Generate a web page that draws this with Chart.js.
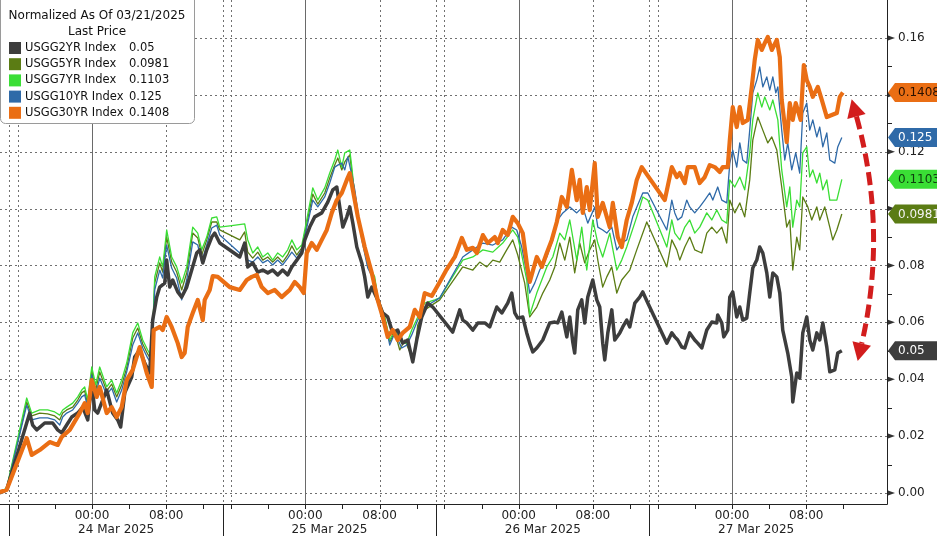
<!DOCTYPE html>
<html>
<head>
<meta charset="utf-8">
<title>USGG curve, normalized</title>
<script src="https://cdn.jsdelivr.net/npm/chart.js@4.4.1/dist/chart.umd.min.js"></script>
<style>
  html, body { margin: 0; padding: 0; background: #fff; }
  #wrap { width: 937px; height: 536px; }
</style>
</head>
<body>
<div id="wrap"><canvas id="chart" width="937" height="536"></canvas></div>
<script>
// x is in session hours: 0 = 24 Mar 00:00, each trading day spans 23 units
const hours30y = [
  -9.95, -9.2, -7.04, -6.5, -5.64, -4.56, -3.7, -3.27, -2.4, -1.33,
  -0.79, -0.46, -0.03, 0.51, 0.83, 1.58, 2.12, 2.66, 3.2, 3.74,
  4.39, 5.14, 5.9, 6.44, 6.65, 7.3, 7.62, 8.05, 8.59, 9.24,
  9.67, 9.99, 10.32, 10.86, 11.4, 11.94, 12.15, 12.69, 13.02, 13.56,
  14.85, 15.93, 16.68, 17.22, 17.76, 18.3, 18.95, 19.7, 20.45, 21.32,
  21.86, 22.4, 22.83, 23.15, 23.69, 24.23, 24.77, 25.31, 25.85, 26.39,
  26.93, 27.47, 27.79, 28.12, 28.66, 29.4, 30.16, 30.8, 31.34, 31.88,
  32.42, 32.96, 33.5, 34.26, 34.8, 35.33, 35.87, 36.63, 37.49, 38.14,
  39.11, 39.87, 40.41, 41.06, 41.49, 42.14, 42.68, 43.42, 43.75, 44.28,
  44.82, 45.36, 45.9, 46.44, 46.87, 47.19, 47.95, 48.49, 49.03, 49.57,
  50.11, 50.65, 51.19, 51.73, 52.26, 52.58, 52.91, 53.34, 53.66, 54.2,
  54.53, 55.06, 55.82, 56.15, 56.68, 57.11, 57.65, 58.19, 58.73, 59.27,
  61.75, 62.51, 63.05, 63.37, 63.91, 64.23, 64.98, 65.52, 66.06, 66.6,
  67.14, 67.68, 68.0, 68.54, 68.76, 69.08, 69.51, 69.84, 70.16, 70.7,
  71.13, 71.45, 71.78, 72.21, 72.53, 72.86, 73.29, 73.83, 74.15, 74.36,
  74.9, 75.23, 75.55, 75.87, 76.4, 76.74, 77.06, 77.38, 77.71, 78.25,
  78.68, 79.22, 79.76, 80.3, 80.62, 80.95
];
const yield30y = [
  .0003, .0011, .0193, .0134, .0151, .0179, .0169, .0197, .0222, .0281,
  .0316, .0281, .0397, .0338, .0373, .0281, .0302, .0267, .0302, .0397,
  .0433, .0513, .0422, .0373, .0573, .0584, .0573, .0619, .0584, .0527,
  .0478, .0492, .0584, .0633, .0679, .0608, .0679, .0714, .0763, .0760,
  .0724, .0714, .0749, .0760, .0767, .0724, .0703, .0714, .0689, .0714,
  .0742, .0724, .0703, .0844, .0879, .0855, .0890, .0925, .0985, .1030,
  .1055, .1101, .1125, .1066, .0971, .0865, .0774, .0679, .0619, .0549,
  .0573, .0538, .0563, .0584, .0644, .0619, .0703, .0693, .0742, .0781,
  .0830, .0897, .0855, .0862, .0844, .0907, .0879, .0900, .0879, .0925,
  .0907, .0971, .0949, .0914, .0809, .0742, .0830, .0795, .0844, .0890,
  .0953, .1041, .1006, .1136, .1030, .1101, .0985, .1076, .0995, .1160,
  .0971, .1020, .0935, .1020, .0900, .0865, .0960, .1020, .1101, .1146,
  .1030, .1146, .1111, .1125, .1090, .1146, .1146, .1090, .1111, .1153,
  .1146, .1129, .1146, .1146, .1241, .1357, .1287, .1357, .1301, .1312,
  .1428, .1523, .1593, .1558, .1582, .1604, .1558, .1593, .1533, .1382,
  .1234, .1371, .1312, .1371, .1312, .1505, .1452, .1428, .1393, .1428,
  .1382, .1322, .1329, .1336, .1393, .1408
];

const hours2y = [
  -9.95, -9.2, -6.72, -6.4, -5.96, -5.1, -4.24, -3.7, -3.27, -2.73,
  -2.19, -1.54, -1.0, -0.46, -0.03, 0.29, 0.61, 1.15, 1.58, 2.23,
  2.77, 3.09, 3.53, 4.28, 4.6, 5.14, 5.68, 6.22, 6.54, 6.98,
  7.3, 7.84, 8.05, 8.38, 8.7, 9.24, 9.67, 10.21, 10.75, 11.29,
  11.61, 11.94, 12.37, 12.91, 13.23, 13.77, 15.93, 16.46, 16.79, 17.33,
  17.87, 18.41, 18.95, 19.48, 20.02, 20.56, 21.1, 21.54, 22.08, 22.62,
  22.94, 23.47, 24.01, 24.77, 25.42, 25.96, 26.39, 26.71, 27.04, 27.47,
  27.79, 28.12, 28.55, 29.09, 29.4, 29.73, 30.16, 30.8, 31.34, 31.88,
  32.42, 32.96, 33.5, 34.04, 34.58, 35.01, 35.55, 36.2, 36.74, 38.89,
  39.65, 39.97, 40.41, 41.06, 41.6, 42.35, 42.88, 43.64, 44.18, 44.82,
  45.25, 45.58, 45.9, 46.44, 46.87, 47.19, 47.52, 47.95, 48.6, 49.35,
  49.89, 50.21, 50.65, 51.19, 51.51, 51.83, 52.04, 52.37, 52.8, 53.12,
  53.45, 53.99, 54.42, 54.74, 55.06, 55.28, 55.61, 56.04, 56.36, 56.9,
  57.22, 57.65, 57.98, 58.52, 59.05, 59.38, 59.92, 61.97, 62.51, 62.83,
  63.15, 63.59, 63.91, 64.44, 64.98, 65.3, 65.74, 66.28, 66.82, 67.36,
  67.46, 67.9, 68.11, 68.54, 68.76, 69.08, 69.51, 69.84, 70.16, 70.59,
  70.91, 71.24, 71.67, 71.99, 72.32, 72.75, 73.07, 73.4, 73.83, 74.15,
  74.47, 75.01, 75.44, 75.55, 75.98, 76.3, 76.63, 77.06, 77.38, 77.71,
  78.14, 78.46, 78.79, 79.22, 79.54, 80.08, 80.4, 80.84
];
const yield2y = [
  0, .0011, .0281, .0239, .0222, .0246, .0246, .0222, .0211, .0239,
  .0267, .0281, .0302, .0257, .0387, .0292, .0281, .0327, .0362, .0281,
  .0257, .0232, .0352, .0408, .0478, .0503, .0457, .0422, .0608, .0689,
  .0724, .0738, .0819, .0724, .0749, .0707, .0689, .0724, .0784, .0844,
  .0855, .0809, .0855, .0900, .0914, .0879, .0830, .0879, .0795, .0809,
  .0777, .0784, .0774, .0784, .0767, .0784, .0767, .0795, .0819, .0844,
  .0890, .0935, .0971, .0985, .1023, .1066, .1076, .1006, .0935, .0971,
  .1006, .0949, .0865, .0809, .0760, .0689, .0724, .0679, .0633, .0619,
  .0563, .0573, .0527, .0538, .0461, .0538, .0619, .0668, .0654, .0566,
  .0644, .0608, .0598, .0573, .0598, .0598, .0584, .0654, .0633, .0668,
  .0703, .0633, .0615, .0619, .0563, .0527, .0496, .0510, .0538, .0598,
  .0601, .0598, .0636, .0549, .0619, .0531, .0492, .0644, .0679, .0598,
  .0689, .0749, .0679, .0654, .0527, .0468, .0563, .0644, .0538, .0563,
  .0584, .0608, .0584, .0668, .0689, .0707, .0668, .0527, .0563, .0549,
  .0538, .0513, .0510, .0563, .0538, .0527, .0510, .0573, .0601, .0598,
  .0626, .0598, .0549, .0573, .0689, .0707, .0619, .0654, .0608, .0615,
  .0703, .0791, .0819, .0865, .0844, .0774, .0689, .0774, .0760, .0703,
  .0573, .0492, .0408, .0320, .0422, .0404, .0563, .0619, .0538, .0503,
  .0563, .0538, .0598, .0513, .0426, .0433, .0492, .0500
];

const hours10y = [
  -9.95, -9.2, -7.04, -6.5, -5.64, -4.78, -4.02, -3.48, -3.16, -2.73,
  -2.08, -1.54, -1.11, -0.79, -0.46, -0.03, 0.4, 0.83, 1.58, 2.12,
  2.66, 3.2, 3.74, 4.39, 4.93, 5.47, 6.0, 6.44, 6.76, 7.3,
  7.62, 8.05, 8.59, 9.13, 9.67, 10.21, 10.86, 11.4, 11.83, 12.37,
  12.91, 13.45, 13.77, 15.93, 16.46, 16.79, 17.33, 17.87, 18.41, 18.95,
  19.48, 20.02, 20.56, 21.1, 21.54, 22.08, 22.62, 23.15, 23.8, 24.34,
  25.09, 25.63, 26.17, 26.5, 26.93, 27.25, 27.58, 28.01, 28.33, 29.09,
  29.73, 30.48, 30.8, 31.56, 32.1, 32.64, 33.39, 33.93, 34.47, 35.12,
  35.87, 37.49, 39.97, 41.06, 42.14, 43.21, 44.28, 45.25, 45.79, 46.33,
  46.87, 47.19, 47.73, 48.27, 49.03, 49.68, 50.21, 50.76, 51.51, 52.26,
  52.91, 53.45, 54.2, 54.53, 55.06, 55.5, 56.04, 56.58, 57.11, 57.65,
  58.3, 59.38, 59.92, 61.97, 62.51, 62.83, 63.15, 63.59, 64.12, 64.44,
  64.98, 65.52, 66.06, 66.6, 66.93, 67.46, 67.9, 68.43, 68.76, 69.08,
  69.51, 69.84, 70.16, 70.59, 70.91, 71.24, 71.67, 71.99, 72.32, 72.75,
  73.07, 73.4, 73.72, 73.94, 74.36, 74.69, 75.01, 75.44, 75.87, 76.3,
  76.63, 77.06, 77.38, 77.71, 78.14, 78.46, 78.79, 79.22, 79.54, 80.08,
  80.4, 80.84
];
const yield10y = [
  0, .0014, .0309, .0257, .0264, .0264, .0257, .0239, .0267, .0281,
  .0292, .0316, .0338, .0345, .0299, .0415, .0345, .0404, .0345, .0369,
  .0320, .0362, .0426, .0520, .0563, .0510, .0475, .0450, .0714, .0784,
  .0756, .0872, .0791, .0756, .0679, .0749, .0883, .0872, .0812, .0872,
  .0932, .0942, .0907, .0844, .0872, .0819, .0812, .0830, .0809, .0819,
  .0802, .0819, .0802, .0826, .0847, .0826, .0855, .0932, .1030, .1006,
  .1041, .1090, .1146, .1153, .1160, .1136, .1182, .1118, .1066, .0890,
  .0791, .0742, .0679, .0608, .0520, .0563, .0510, .0520, .0556, .0608,
  .0654, .0686, .0830, .0855, .0879, .0872, .0890, .0935, .0925, .0865,
  .0774, .0703, .0738, .0784, .0830, .0890, .0960, .0985, .1006, .0985,
  .1006, .0949, .1006, .0935, .0925, .0914, .0935, .0855, .0879, .0890,
  .0971, .1055, .1055, .0925, .1030, .0985, .0960, .0971, .1030, .1006,
  .0985, .1006, .1030, .1055, .1030, .1076, .1030, .1020, .1160, .1206,
  .1146, .1231, .1171, .1160, .1276, .1407, .1452, .1498, .1428, .1463,
  .1417, .1463, .1407, .1428, .1276, .1171, .1231, .1136, .1196, .1125,
  .1336, .1371, .1276, .1312, .1252, .1287, .1217, .1266, .1171, .1160,
  .1217, .1250
];

const hours7y = [
  -9.95, -9.2, -7.04, -6.5, -5.64, -4.78, -4.02, -3.48, -3.16, -2.73,
  -2.08, -1.54, -1.11, -0.79, -0.46, -0.03, 0.4, 0.83, 1.58, 2.12,
  2.66, 3.2, 3.74, 4.39, 4.93, 5.47, 6.0, 6.44, 6.76, 7.3,
  7.62, 8.05, 8.59, 9.13, 9.67, 10.21, 10.86, 11.4, 11.83, 12.37,
  12.91, 13.45, 13.77, 14.85, 16.46, 16.79, 17.33, 17.87, 18.41, 18.95,
  19.48, 20.02, 20.56, 21.1, 21.54, 22.08, 22.62, 23.15, 23.8, 24.34,
  25.09, 25.63, 26.17, 26.5, 26.93, 27.25, 27.79, 28.01, 28.33, 29.09,
  29.73, 30.48, 30.8, 31.56, 32.1, 32.64, 33.39, 33.93, 34.47, 35.12,
  35.87, 36.95, 37.49, 39.97, 41.06, 42.14, 43.21, 44.28, 45.36, 45.9,
  46.33, 46.87, 47.19, 47.95, 49.03, 49.68, 50.43, 50.97, 51.51, 52.26,
  52.8, 53.34, 53.99, 54.53, 55.06, 55.82, 56.58, 57.11, 57.65, 58.73,
  59.38, 59.92, 61.97, 62.51, 62.83, 63.37, 63.91, 64.44, 64.98, 65.52,
  66.28, 66.82, 67.36, 67.9, 68.43, 68.76, 69.3, 69.84, 70.37, 70.91,
  71.24, 71.78, 72.21, 72.53, 73.07, 73.4, 73.94, 74.36, 74.9, 75.23,
  75.55, 75.98, 76.3, 76.63, 77.06, 77.38, 77.71, 78.14, 78.46, 78.79,
  79.22, 79.54, 80.3, 80.84
];
const yield7y = [
  0, .0018, .0334, .0281, .0292, .0292, .0285, .0274, .0292, .0302,
  .0316, .0338, .0362, .0373, .0327, .0443, .0380, .0443, .0373, .0397,
  .0352, .0397, .0457, .0563, .0598, .0538, .0503, .0478, .0760, .0830,
  .0795, .0925, .0830, .0795, .0738, .0795, .0935, .0914, .0855, .0900,
  .0967, .0971, .0935, .0939, .0946, .0890, .0844, .0865, .0830, .0844,
  .0819, .0844, .0830, .0855, .0890, .0855, .0872, .0960, .1073, .1030,
  .1073, .1125, .1171, .1206, .1146, .1196, .1206, .1146, .1041, .0900,
  .0809, .0760, .0689, .0619, .0538, .0573, .0527, .0527, .0573, .0619,
  .0668, .0679, .0686, .0819, .0830, .0855, .0847, .0879, .0925, .0900,
  .0837, .0749, .0626, .0703, .0795, .0830, .0914, .0890, .0960, .0819,
  .0935, .0784, .0960, .0879, .0830, .0914, .0784, .0819, .0865, .0971,
  .1041, .1030, .0865, .0960, .0914, .0890, .0935, .0960, .0914, .0935,
  .0985, .0960, .0995, .0960, .0949, .1101, .1076, .1111, .1066, .1196,
  .1312, .1407, .1357, .1393, .1347, .1382, .1312, .1136, .1006, .1076,
  .0935, .1030, .1006, .1196, .1217, .1111, .1136, .1090, .1125, .1066,
  .1101, .1030, .1030, .1103
];

const hours5y = [
  -9.95, -9.2, -7.04, -6.5, -5.64, -4.78, -4.02, -3.48, -3.16, -2.73,
  -2.08, -1.54, -1.11, -0.79, -0.46, -0.03, 0.4, 0.83, 1.58, 2.12,
  2.66, 3.2, 3.74, 4.39, 4.93, 5.47, 6.0, 6.44, 6.76, 7.3,
  7.62, 8.05, 8.59, 9.13, 9.67, 10.21, 10.86, 11.4, 11.83, 12.37,
  12.91, 13.45, 13.77, 15.93, 16.46, 16.79, 17.33, 17.87, 18.41, 18.95,
  19.48, 20.02, 20.56, 21.1, 21.54, 22.08, 22.62, 23.15, 23.8, 24.34,
  25.09, 25.63, 26.17, 26.5, 26.93, 27.25, 27.79, 28.01, 28.33, 29.09,
  29.73, 30.48, 30.8, 31.56, 32.1, 32.64, 33.18, 33.72, 34.26, 34.69,
  35.12, 35.87, 37.49, 39.97, 41.06, 41.8, 42.56, 43.21, 43.96, 44.71,
  45.36, 45.9, 46.65, 47.19, 47.95, 48.6, 49.35, 49.89, 50.43, 50.97,
  51.51, 52.04, 52.58, 53.12, 53.66, 54.2, 54.53, 55.06, 55.5, 56.04,
  56.58, 57.11, 57.98, 58.73, 59.81, 61.97, 62.51, 63.05, 63.37, 63.91,
  64.44, 64.98, 65.74, 66.28, 66.82, 67.36, 67.9, 68.43, 68.76, 69.3,
  69.84, 70.37, 70.91, 71.24, 71.78, 72.32, 72.86, 73.29, 73.83, 74.36,
  74.9, 75.23, 75.55, 75.98, 76.3, 76.63, 77.17, 77.6, 78.14, 78.46,
  79.0, 79.54, 79.86, 80.3, 80.84
];
const yield5y = [
  0, .0014, .0320, .0271, .0281, .0278, .0271, .0257, .0281, .0292,
  .0302, .0327, .0352, .0359, .0313, .0429, .0362, .0426, .0359, .0383,
  .0338, .0380, .0440, .0545, .0580, .0524, .0489, .0464, .0738, .0809,
  .0777, .0900, .0812, .0777, .0714, .0774, .0914, .0897, .0837, .0890,
  .0953, .0953, .0925, .0890, .0918, .0847, .0826, .0847, .0819, .0830,
  .0812, .0830, .0812, .0837, .0869, .0837, .0862, .0946, .1051, .1016,
  .1055, .1108, .1153, .1178, .1136, .1164, .1189, .1129, .1055, .0897,
  .0802, .0749, .0686, .0615, .0531, .0566, .0503, .0538, .0496, .0475,
  .0591, .0644, .0679, .0795, .0784, .0812, .0795, .0819, .0812, .0855,
  .0890, .0837, .0738, .0619, .0654, .0703, .0749, .0795, .0879, .0819,
  .0900, .0774, .0879, .0809, .0855, .0890, .0819, .0724, .0760, .0795,
  .0703, .0749, .0784, .0855, .0953, .0795, .0890, .0855, .0819, .0865,
  .0900, .0855, .0844, .0914, .0935, .0914, .0935, .0879, .1030, .0985,
  .1020, .0971, .1101, .1241, .1322, .1276, .1231, .1252, .1206, .1076,
  .0935, .0960, .0784, .0900, .0855, .1041, .1006, .0960, .1006, .0960,
  .1006, .0935, .0890, .0925, .0981
];

const seriesNames = ['USGG2YR Index', 'USGG5YR Index', 'USGG7YR Index', 'USGG10YR Index', 'USGG30YR Index'];
const seriesColors = ['#3d3d3d', '#5b7c14', '#3ade35', '#2f6aa8', '#ea6e14'];
const boxTextColors = ['#ffffff', '#f2f2f2', '#0d3d0d', '#ffffff', '#2a1100'];

const yTicks = [0, 0.02, 0.04, 0.06, 0.08, 0.10, 0.12, 0.14, 0.16];
const dayStarts = [0, 23, 46, 69];
const dayLabels = ['24 Mar 2025', '25 Mar 2025', '26 Mar 2025', '27 Mar 2025'];
const sessionBreaks = [-8.9, 14.1, 37.1, 60.1];
const legendTitle = 'Normalized As Of 03/21/2025';
const legendSub = 'Last Price';

const arrowTop = {x: 81.9, y: 0.1385};
const arrowBottom = {x: 82.55, y: 0.0464};
const arrowBend = {x: 85.8, y: 0.0925};

const allHours = [hours2y, hours5y, hours7y, hours10y, hours30y];
const allYields = [yield2y, yield5y, yield7y, yield10y, yield30y];
const lastValues = allYields.map(vs => vs[vs.length - 1]);

const toPoints = (hs, vs) => hs.map((h, i) => ({x: h, y: vs[i]}));
const fmtVal = (v) => String(+v.toFixed(4));

Chart.defaults.font.family = "'DejaVu Sans', sans-serif";
Chart.defaults.color = '#222';

const decor = {
  id: 'decor',
  beforeDatasetsDraw(chart) {
    const {ctx, chartArea: a, scales: {x, y}} = chart;
    ctx.save();
    ctx.lineWidth = 1;
    ctx.strokeStyle = '#707070';
    ctx.setLineDash([2, 3]);
    yTicks.forEach(v => {
      const py = Math.round(y.getPixelForValue(v)) + 0.5;
      ctx.beginPath(); ctx.moveTo(a.left, py); ctx.lineTo(a.right, py); ctx.stroke();
    });
    const dotted = [];
    dayStarts.forEach(d => dotted.push(d + 8));
    sessionBreaks.forEach(b => { dotted.push(b); dotted.push(b + 0.9); });
    dotted.forEach(h => {
      const px = Math.round(x.getPixelForValue(h)) + 0.5;
      ctx.beginPath(); ctx.moveTo(px, a.top); ctx.lineTo(px, a.bottom); ctx.stroke();
    });
    ctx.setLineDash([]);
    ctx.strokeStyle = '#6a6a6a';
    dayStarts.forEach(d => {
      const px = Math.round(x.getPixelForValue(d)) + 0.5;
      ctx.beginPath(); ctx.moveTo(px, a.top); ctx.lineTo(px, a.bottom); ctx.stroke();
    });
    ctx.restore();
  },
  afterDraw(chart) {
    const {ctx, chartArea: a, scales: {x, y}, width, height} = chart;
    ctx.save();

    // axis lines
    ctx.strokeStyle = '#222';
    ctx.lineWidth = 1;
    ctx.beginPath();
    ctx.moveTo(a.left, a.bottom + 0.5); ctx.lineTo(a.right + 0.5, a.bottom + 0.5);
    ctx.moveTo(a.right + 0.5, a.top); ctx.lineTo(a.right + 0.5, a.bottom + 0.5);
    ctx.stroke();

    // bottom tick marks every 4 session hours
    ctx.beginPath();
    dayStarts.forEach(d => {
      [-8, -4, 0, 4, 8, 12].forEach(o => {
        const px = Math.round(x.getPixelForValue(d + o)) + 0.5;
        ctx.moveTo(px, a.bottom); ctx.lineTo(px, a.bottom + 5);
      });
    });
    // day separators in the label strip
    sessionBreaks.forEach(b => {
      const px = Math.round(x.getPixelForValue(b)) + 0.5;
      ctx.moveTo(px, a.bottom); ctx.lineTo(px, height);
    });
    ctx.stroke();

    // date row
    ctx.fillStyle = '#222';
    ctx.font = "12px 'DejaVu Sans'";
    ctx.textAlign = 'center';
    ctx.textBaseline = 'middle';
    dayLabels.forEach((lbl, i) => {
      const l = sessionBreaks[i];
      const r = i + 1 < sessionBreaks.length ? sessionBreaks[i + 1] : l + 23;
      ctx.fillText(lbl, x.getPixelForValue((l + r) / 2), a.bottom + 26);
    });

    // right axis markers
    ctx.fillStyle = '#333';
    yTicks.forEach(v => {
      const py = y.getPixelForValue(v);
      ctx.beginPath();
      ctx.moveTo(a.right + 1, py - 2.5); ctx.lineTo(a.right + 8, py); ctx.lineTo(a.right + 1, py + 2.5);
      ctx.closePath(); ctx.fill();
    });
    ctx.beginPath();
    for (let i = 0; i < yTicks.length - 1; i++) {
      const py = Math.round(y.getPixelForValue((yTicks[i] + yTicks[i + 1]) / 2)) + 0.5;
      ctx.moveTo(a.right, py); ctx.lineTo(a.right + 5, py);
    }
    ctx.stroke();

    // last value tags
    ctx.font = "12px 'DejaVu Sans'";
    ctx.textAlign = 'left';
    lastValues.forEach((v, i) => {
      const cy = y.getPixelForValue(v);
      const l = a.right + 1;
      ctx.fillStyle = seriesColors[i];
      ctx.beginPath();
      ctx.moveTo(l, cy); ctx.lineTo(l + 7, cy - 9.5); ctx.lineTo(width, cy - 9.5);
      ctx.lineTo(width, cy + 9.5); ctx.lineTo(l + 7, cy + 9.5); ctx.closePath();
      ctx.fill();
      ctx.fillStyle = boxTextColors[i];
      ctx.fillText(fmtVal(v), l + 10, cy + 0.5);
    });

    // legend box
    ctx.fillStyle = '#fff';
    ctx.strokeStyle = '#9a9a9a';
    ctx.beginPath();
    if (ctx.roundRect) ctx.roundRect(0.5, -6, 194, 129.5, 5); else ctx.rect(0.5, -6, 194, 129.5);
    ctx.fill(); ctx.stroke();
    ctx.fillStyle = '#111';
    ctx.textAlign = 'center';
    ctx.font = "12px 'DejaVu Sans'";
    ctx.fillText(legendTitle, 97, 16);
    ctx.fillText(legendSub, 97, 32);
    ctx.textAlign = 'left';
    ctx.font = "11.5px 'DejaVu Sans'";
    seriesNames.forEach((name, i) => {
      const ry = 48 + i * 16.2;
      ctx.fillStyle = seriesColors[i];
      ctx.fillRect(9, ry - 6, 12, 12);
      ctx.fillStyle = '#111';
      ctx.fillText(name, 25, ry);
      ctx.fillText(fmtVal(lastValues[i]), 129, ry);
    });

    // red dashed double arrow
    const p0 = {x: x.getPixelForValue(arrowTop.x), y: y.getPixelForValue(arrowTop.y)};
    const p1 = {x: x.getPixelForValue(arrowBottom.x), y: y.getPixelForValue(arrowBottom.y)};
    const c = {x: x.getPixelForValue(arrowBend.x), y: y.getPixelForValue(arrowBend.y)};
    const unit = (dx, dy) => { const n = Math.hypot(dx, dy); return {x: dx / n, y: dy / n}; };
    const d0 = unit(c.x - p0.x, c.y - p0.y);
    const d1 = unit(c.x - p1.x, c.y - p1.y);
    const head = 18, half = 9.5;
    const s0 = {x: p0.x + d0.x * head, y: p0.y + d0.y * head};
    const s1 = {x: p1.x + d1.x * head, y: p1.y + d1.y * head};
    ctx.strokeStyle = '#d21d1d';
    ctx.fillStyle = '#d21d1d';
    ctx.lineWidth = 5;
    ctx.setLineDash([13, 6]);
    ctx.beginPath();
    ctx.moveTo(s0.x, s0.y);
    ctx.quadraticCurveTo(c.x, c.y, s1.x, s1.y);
    ctx.stroke();
    ctx.setLineDash([]);
    [[p0, d0], [p1, d1]].forEach(([p, d]) => {
      const bx = p.x + d.x * head, by = p.y + d.y * head;
      ctx.beginPath();
      ctx.moveTo(p.x, p.y);
      ctx.lineTo(bx - d.y * half, by + d.x * half);
      ctx.lineTo(bx + d.y * half, by - d.x * half);
      ctx.closePath();
      ctx.fill();
    });

    ctx.restore();
  }
};

// first dataset is drawn on top
const drawOrder = [4, 0, 3, 2, 1];
const widths = [3.5, 1.3, 1.3, 1.3, 4.2];

new Chart(document.getElementById('chart'), {
  type: 'line',
  data: {
    datasets: drawOrder.map(i => ({
      label: seriesNames[i],
      data: toPoints(allHours[i], allYields[i]),
      borderColor: seriesColors[i],
      borderWidth: widths[i],
      borderJoinStyle: 'round',
      pointRadius: 0,
      tension: 0,
      fill: false
    }))
  },
  options: {
    responsive: false,
    animation: false,
    devicePixelRatio: 1,
    layout: {padding: 0},
    plugins: {legend: {display: false}, tooltip: {enabled: false}},
    scales: {
      x: {
        type: 'linear',
        min: -9.92,
        max: 85.71,
        grid: {display: false, drawTicks: false},
        border: {display: false},
        afterBuildTicks: (scale) => {
          scale.ticks = dayStarts.flatMap(d => [{value: d}, {value: d + 8}]);
        },
        afterFit: (scale) => {
          scale.height = 32;
          scale.paddingLeft = 0;
          scale.paddingRight = 0;
        },
        ticks: {
          autoSkip: false,
          maxRotation: 0,
          padding: 5,
          font: {size: 12},
          color: '#222',
          callback: (v) => (Math.round(v) % 23 === 0 ? '00:00' : '08:00')
        }
      },
      y: {
        type: 'linear',
        position: 'right',
        min: -0.00387,
        max: 0.17336,
        grid: {display: false, drawTicks: false},
        border: {display: false},
        afterBuildTicks: (scale) => {
          scale.ticks = yTicks.map(v => ({value: v}));
        },
        afterFit: (scale) => {
          scale.width = 50;
          scale.paddingTop = 0;
          scale.paddingBottom = 0;
        },
        ticks: {
          padding: 11,
          font: {size: 12},
          color: '#222',
          // labels sitting under a last-value tag are hidden, as on the terminal
          callback: (v) => (lastValues.some(lv => Math.abs(lv - v) < 0.003) ? '' : v.toFixed(2))
        }
      }
    }
  },
  plugins: [decor]
});
</script>
</body>
</html>
